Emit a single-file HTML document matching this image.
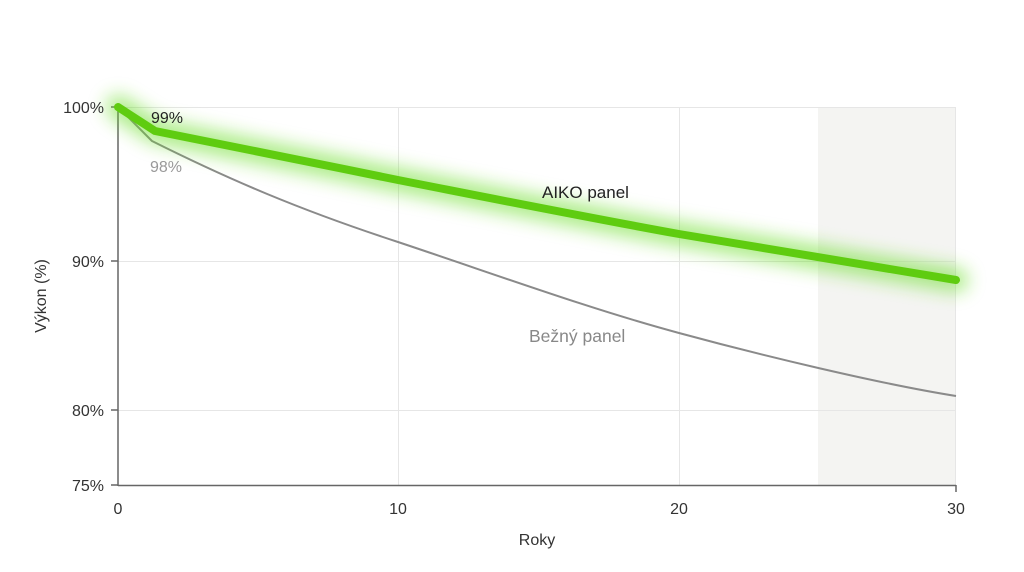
<!DOCTYPE html>
<html><head><meta charset="utf-8"><style>
html,body{margin:0;padding:0;background:#fff;}
svg{display:block;font-family:"Liberation Sans",sans-serif;}
</style></head><body>
<svg width="1024" height="572" viewBox="0 0 1024 572">
<defs>
<filter id="glow" x="-10%" y="-50%" width="120%" height="200%"><feGaussianBlur stdDeviation="9"/></filter>
</defs>
<rect x="818" y="107" width="138" height="378" fill="#f4f4f2"/>
<g stroke="#e6e6e6" stroke-width="1">
<line x1="118" y1="107.5" x2="956" y2="107.5"/>
<line x1="118" y1="261.5" x2="956" y2="261.5"/>
<line x1="118" y1="410.5" x2="956" y2="410.5"/>
<line x1="398.5" y1="107" x2="398.5" y2="485"/>
<line x1="679.5" y1="107" x2="679.5" y2="485"/>
<line x1="955.5" y1="107" x2="955.5" y2="485"/>
</g>
<g stroke="#666" stroke-width="1.5">
<line x1="118" y1="107" x2="118" y2="486"/>
<line x1="118" y1="485.5" x2="956" y2="485.5"/>
<line x1="111" y1="107" x2="118" y2="107"/>
<line x1="111" y1="261" x2="118" y2="261"/>
<line x1="111" y1="410" x2="118" y2="410"/>
<line x1="111" y1="485" x2="118" y2="485"/>
<line x1="956" y1="485" x2="956" y2="492"/>
</g>
<path d="M118 107 L152 141 C230 180 300 210 398 242 C500 276 590 309 679 333 C760 355 880 384 956 396" fill="none" stroke="#8a8a8a" stroke-width="2"/>
<path d="M118 107 L155 131 C250 150 320 164 398 180 C500 200 590 218 679 234 C780 251 880 267 956 280" fill="none" stroke="#66dd22" stroke-width="24" opacity="0.55" filter="url(#glow)" stroke-linecap="round" stroke-linejoin="round"/>
<path d="M118 107 L155 131 C250 150 320 164 398 180 C500 200 590 218 679 234 C780 251 880 267 956 280" fill="none" stroke="#5fcc10" stroke-width="8" stroke-linecap="round" stroke-linejoin="round"/>
<g font-size="16" fill="#333" text-anchor="end">
<text x="104" y="113">100%</text>
<text x="104" y="267">90%</text>
<text x="104" y="416">80%</text>
<text x="104" y="491">75%</text>
</g>
<g font-size="16" fill="#333" text-anchor="middle">
<text x="118" y="514">0</text>
<text x="398" y="514">10</text>
<text x="679" y="514">20</text>
<text x="956" y="514">30</text>
<text x="537" y="545">Roky</text>
</g>
<text x="46" y="296" font-size="16" fill="#333" text-anchor="middle" transform="rotate(-90 46 296)">Výkon (%)</text>
<text x="151" y="123" font-size="16" fill="#222">99%</text>
<text x="150" y="172" font-size="16" fill="#999">98%</text>
<text x="542" y="198" font-size="17" fill="#222">AIKO panel</text>
<text x="529" y="342" font-size="17.5" fill="#888">Bežný panel</text>
</svg>
</body></html>
